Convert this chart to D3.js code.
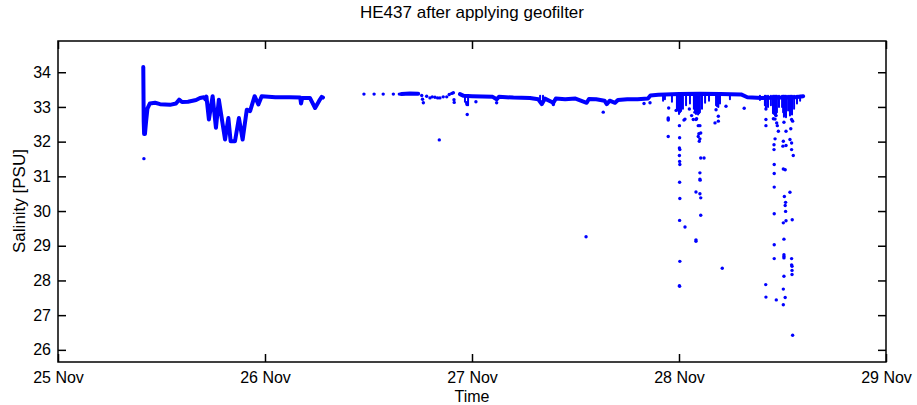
<!DOCTYPE html>
<html>
<head>
<meta charset="utf-8">
<script src="https://cdn.jsdelivr.net/npm/d3@7"></script>
<style>
  html, body { margin: 0; padding: 0; background: #fff; overflow: hidden; }
  svg { display: block; }
  text { font-family: "Liberation Sans", Arial, sans-serif; fill: #000; }
</style>
</head>
<body>
<div id="chart"></div>
<script>
// Data, times are in fractional day of November

// Trace 1 (dense part before the gap)
var trace1Day = [25.412, 25.413, 25.414, 25.416, 25.420, 25.425, 25.432, 25.444, 25.469, 25.493, 25.517, 25.541,
  25.570, 25.585, 25.599, 25.628, 25.667, 25.686, 25.705, 25.712, 25.717, 25.729, 25.747, 25.763, 25.777,
  25.807, 25.823, 25.834, 25.855, 25.874, 25.892, 25.912, 25.928, 25.950, 25.968, 25.984, 26.050, 26.120,
  26.170, 26.174, 26.180, 26.217, 26.242, 26.262, 26.274, 26.280];
var trace1Sal = [34.15, 33.40, 32.60, 32.22, 32.22, 32.55, 32.95, 33.10, 33.12, 33.08, 33.07, 33.06,
  33.10, 33.21, 33.14, 33.15, 33.20, 33.26, 33.28, 33.22, 33.30, 32.64, 33.31, 32.40, 33.21,
  32.06, 32.68, 32.01, 32.01, 32.68, 32.06, 32.92, 32.88, 33.31, 33.07, 33.31, 33.28, 33.28,
  33.27, 33.10, 33.26, 33.26, 32.97, 33.18, 33.29, 33.27];

// Trace 2 short dense piece
var trace2aDay = [26.660, 26.700, 26.740];
var trace2aSal = [33.37, 33.39, 33.38];

// Trace 2 main
var trace2Day = [26.942, 26.960, 27.000, 27.050, 27.100, 27.119, 27.130, 27.200, 27.280, 27.320, 27.337, 27.352,
  27.393, 27.405, 27.450, 27.500, 27.554, 27.565, 27.600, 27.640, 27.651, 27.665, 27.691, 27.705, 27.750,
  27.800, 27.850, 27.862, 27.900, 28.000, 28.100, 28.200, 28.300, 28.330, 28.400, 28.500, 28.560, 28.600];
var trace2Sal = [33.37, 33.32, 33.31, 33.30, 33.29, 33.22, 33.29, 33.27, 33.26, 33.22, 33.08, 33.24,
  33.12, 33.24, 33.22, 33.24, 33.12, 33.23, 33.22, 33.18, 33.08, 33.18, 33.12, 33.20, 33.22,
  33.22, 33.24, 33.33, 33.35, 33.37, 33.38, 33.37, 33.36, 33.28, 33.26, 33.27, 33.28, 33.31];

// Single scattered samples
var dotDay = [25.415,
  26.478, 26.527, 26.571, 26.620, 26.649,
  26.757, 26.761, 26.765, 26.781, 26.797, 26.808, 26.821, 26.834, 26.845, 26.861, 26.878, 26.890, 26.902, 26.910, 26.913, 26.914,
  26.842, 26.974, 26.976, 26.977, 27.019, 27.119, 27.393, 27.634, 27.948, 27.551, 27.831, 27.860,
  27.950, 27.948, 27.948, 27.948, 27.986,
  28.002, 28.003, 28.002, 28.004, 28.002, 28.003, 28.004, 28.003, 28.004, 28.003, 28.004, 28.002, 28.003,
  28.029, 28.029, 28.024, 28.050, 28.061, 28.069, 28.082, 28.093, 28.101, 28.105, 28.093, 28.101, 28.098, 28.096,
  28.105, 28.121, 28.101, 28.101, 28.102, 28.082, 28.101, 28.105, 28.105, 28.082, 28.082, 28.209, 28.077, 28.085,
  28.179, 28.190, 28.174, 28.190, 28.227, 28.315,
  28.420, 28.420, 28.420, 28.469, 28.464, 28.472, 28.475, 28.480, 28.464, 28.459, 28.459,
  28.504, 28.517, 28.507, 28.517, 28.540, 28.544, 28.549, 28.536, 28.544, 28.544, 28.552,
  28.502, 28.460, 28.504, 28.513, 28.460, 28.460, 28.536, 28.509, 28.515, 28.513, 28.515, 28.460, 28.547, 28.517,
  28.504, 28.507, 28.460, 28.507, 28.507, 28.507, 28.460, 28.544, 28.544, 28.546, 28.546, 28.546, 28.507,
  28.419, 28.504, 28.420, 28.513, 28.470, 28.504, 28.549, 28.456];
var dotSal = [31.51,
  33.37, 33.37, 33.37, 33.37, 33.37,
  33.33, 33.22, 33.12, 33.31, 33.26, 33.29, 33.28, 33.26, 33.26, 33.29, 33.29, 33.36, 33.39, 33.41, 33.21, 33.13,
  32.05, 33.12, 33.07, 32.78, 33.15, 33.12, 33.07, 32.85, 32.68, 29.26, 33.10, 33.12,
  32.97, 32.65, 32.62, 32.15, 32.90,
  32.46, 32.11, 31.82, 31.77, 31.60, 31.43, 31.34, 30.83, 30.36, 29.73, 28.55, 27.85, 27.83,
  29.54, 32.65, 32.62, 32.94, 32.75, 32.64, 32.64, 32.46, 32.46, 32.25, 32.15, 32.08, 32.01, 32.23,
  31.53, 31.53, 31.10, 30.92, 30.89, 30.55, 30.50, 30.38, 29.88, 29.17, 29.13, 28.35, 32.85, 32.66,
  32.92, 32.73, 32.54, 32.59, 33.02, 32.96,
  32.94, 32.64, 32.46, 32.75, 32.65, 32.54, 32.46, 32.30, 32.08, 31.91, 31.77,
  32.01, 31.89, 32.56, 32.30, 32.37, 32.64, 32.59, 32.06, 31.96, 31.77, 31.60,
  31.87, 31.34, 31.21, 31.19, 31.08, 30.69, 30.54, 30.42, 30.25, 30.16, 29.99, 29.92, 29.75, 29.72,
  29.66, 29.19, 29.03, 28.74, 28.69, 28.65, 28.63, 28.63, 28.45, 28.41, 28.29, 28.17, 28.12,
  27.88, 27.75, 27.52, 27.51, 27.44, 27.30, 26.42, 32.66];

// Dense spray just below the trace (short streaks of samples)
var sprayTop = 33.32;
var sprayDay = [26.966, 26.981, 27.329, 27.343, 27.923, 27.932, 27.966, 27.990, 27.995, 28.000, 28.005, 28.010,
  28.019, 28.034, 28.053, 28.072, 28.077, 28.082, 28.087, 28.092, 28.097, 28.101, 28.111, 28.126, 28.145,
  28.179, 28.184, 28.190, 28.198, 28.246, 28.391, 28.415, 28.420, 28.430, 28.444, 28.454, 28.459, 28.464,
  28.469, 28.473, 28.483, 28.498, 28.503, 28.507, 28.512, 28.517, 28.527, 28.536, 28.541, 28.546, 28.556,
  28.570, 28.585];
var sprayLow = [33.15, 33.05, 33.12, 33.12, 33.18, 33.22, 33.15, 32.95, 32.90, 32.80, 32.85, 32.88,
  32.95, 33.05, 33.10, 32.95, 32.90, 32.80, 32.85, 32.78, 32.82, 32.85, 32.95, 33.12, 33.18,
  33.05, 33.02, 33.00, 33.10, 33.22, 33.20, 33.05, 32.95, 33.00, 33.05, 32.82, 32.80, 32.75,
  32.80, 32.85, 33.00, 33.00, 32.85, 32.72, 32.75, 32.70, 32.90, 32.75, 32.80, 32.78, 32.95,
  33.10, 33.18];

var yTicks = [26, 27, 28, 29, 30, 31, 32, 33, 34];
var xStart = 25, xEnd = 29;

// Dimensions
var outerWidth = 917;
var outerHeight = 405;
var marginLeft = 58;
var marginRight = 31;
var marginTop = 41;
var marginBottom = 43;
var innerWidth = outerWidth - marginLeft - marginRight;
var innerHeight = outerHeight - marginTop - marginBottom;
var blue = "#0000ff";
var tickLen = 8;

function toDate(day) {
  return new Date(Date.UTC(2014, 10, 1) + (day - 1) * 864e5);
}
function zip(days, vals) {
  return days.map(function(d, i) { return { t: toDate(d), s: vals[i] }; });
}

var svg = d3.select("#chart").append("svg")
  .attr("width", outerWidth)
  .attr("height", outerHeight);

var g = svg.append("g").attr("transform", "translate(" + marginLeft + "," + marginTop + ")");

var x = d3.scaleUtc().domain([toDate(xStart), toDate(xEnd)]).range([0, innerWidth]);
var y = d3.scaleLinear().domain([25.65, 34.9]).range([innerHeight, 0]);

var fmt = d3.utcFormat("%-d %b");

// Axes, inward ticks on all four sides
var xAxisB = d3.axisBottom(x).ticks(d3.utcDay.every(1)).tickFormat(fmt)
  .tickSizeInner(-tickLen).tickSizeOuter(0).tickPadding(10);
var xAxisT = d3.axisTop(x).ticks(d3.utcDay.every(1))
  .tickSizeInner(-tickLen).tickSizeOuter(0);
var yAxisL = d3.axisLeft(y).tickValues(yTicks).tickFormat(d3.format("d"))
  .tickSizeInner(-tickLen).tickSizeOuter(0).tickPadding(7);
var yAxisR = d3.axisRight(y).tickValues(yTicks)
  .tickSizeInner(-tickLen).tickSizeOuter(0);

function styleAxis(sel) {
  sel.select(".domain").remove();
  sel.selectAll(".tick line").attr("stroke", "#000").attr("stroke-width", 1.5);
  sel.selectAll(".tick text").style("font-size", "16px").attr("fill", "#000");
}
function noLabels(sel) {
  sel.selectAll(".tick text").remove();
}

g.append("g").attr("transform", "translate(0," + innerHeight + ")").call(xAxisB).call(styleAxis);
g.append("g").call(xAxisT).call(styleAxis).call(noLabels);
g.append("g").call(yAxisL).call(styleAxis);
g.append("g").attr("transform", "translate(" + innerWidth + ",0)").call(yAxisR).call(styleAxis).call(noLabels);

// Data
var line = d3.line().x(function(d) { return x(d.t); }).y(function(d) { return y(d.s); });

g.selectAll("line.spray").data(zip(sprayDay, sprayLow)).enter().append("line")
  .attr("class", "spray")
  .attr("x1", function(d) { return x(d.t); })
  .attr("x2", function(d) { return x(d.t); })
  .attr("y1", y(sprayTop))
  .attr("y2", function(d) { return y(d.s); })
  .attr("stroke", blue)
  .attr("stroke-width", 2)
  .attr("stroke-linecap", "round");

var traces = [zip(trace1Day, trace1Sal), zip(trace2aDay, trace2aSal), zip(trace2Day, trace2Sal)];
g.selectAll("path.trace").data(traces).enter().append("path")
  .attr("class", "trace")
  .attr("d", line)
  .attr("fill", "none")
  .attr("stroke", blue)
  .attr("stroke-width", 4)
  .attr("stroke-linejoin", "round")
  .attr("stroke-linecap", "round");

g.selectAll("circle.dot").data(zip(dotDay, dotSal)).enter().append("circle")
  .attr("class", "dot")
  .attr("cx", function(d) { return x(d.t); })
  .attr("cy", function(d) { return y(d.s); })
  .attr("r", 1.7)
  .attr("fill", blue);

// Frame
g.append("rect")
  .attr("width", innerWidth)
  .attr("height", innerHeight)
  .attr("fill", "none")
  .attr("stroke", "#000")
  .attr("stroke-width", 1.5);

// Labels
svg.append("text")
  .attr("x", marginLeft + innerWidth / 2)
  .attr("y", 18)
  .attr("text-anchor", "middle")
  .style("font-size", "17px")
  .text("HE437 after applying geofilter");

svg.append("text")
  .attr("x", marginLeft + innerWidth / 2)
  .attr("y", 402)
  .attr("text-anchor", "middle")
  .style("font-size", "16px")
  .text("Time");

svg.append("text")
  .attr("transform", "translate(25,201) rotate(-90)")
  .attr("text-anchor", "middle")
  .style("font-size", "17px")
  .text("Salinity [PSU]");
</script>
</body>
</html>
